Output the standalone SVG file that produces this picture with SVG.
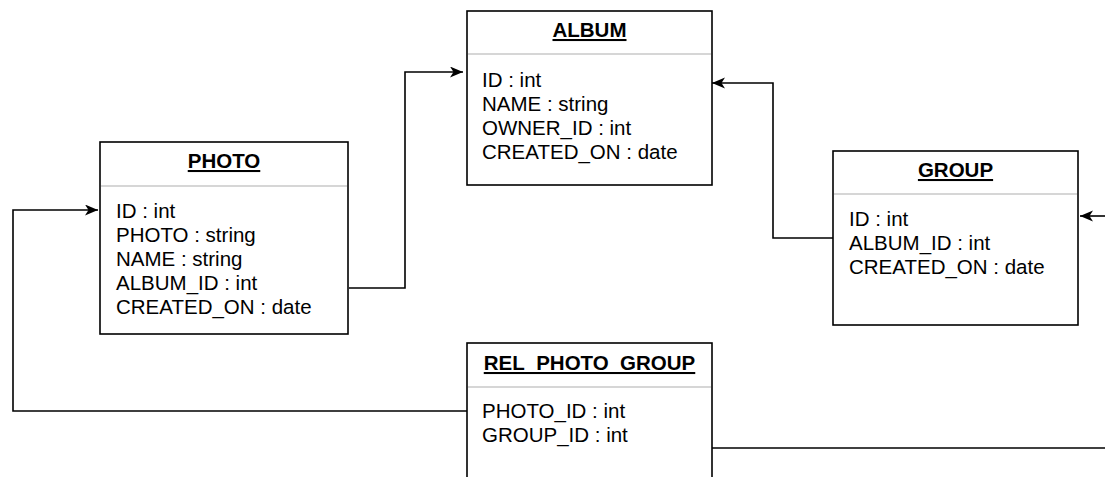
<svg xmlns="http://www.w3.org/2000/svg" width="1105" height="477" viewBox="0 0 1105 477">
<style>
.box{fill:#fff;stroke:#000;stroke-width:1.6}
.div{stroke:#c8c8c8;stroke-width:1.6}
.t{font-family:"Liberation Sans",Arial,sans-serif;font-size:20.5px;fill:#000}
.h{font-weight:bold;text-decoration:underline;text-anchor:middle}
.c{fill:none;stroke:#000;stroke-width:1.6}
</style>
<defs>
<marker id="arr" markerWidth="14" markerHeight="12" refX="13" refY="5.5" orient="auto" markerUnits="userSpaceOnUse">
<path d="M0,0 L13,5.5 L0,11 L3.5,5.5 Z" fill="#000"/>
</marker>
</defs>
<rect width="1105" height="477" fill="#fff"/>
<g id="connectors">
<polyline class="c" points="349,288 405,288 405,72 463,72" marker-end="url(#arr)"/>
<polyline class="c" points="833,238 773,238 773,83 712,83" marker-end="url(#arr)"/>
<polyline class="c" points="467,411 13,411 13,210 98,210" marker-end="url(#arr)"/>
<polyline class="c" points="712,448 1105,448"/>
<polyline class="c" points="1105,216 1080,216" marker-end="url(#arr)"/>
</g>
<g id="album">
<rect class="box" x="467" y="11" width="245" height="174"/>
<line class="div" x1="468" y1="54" x2="711" y2="54"/>
<text class="t h" x="589.5" y="37">ALBUM</text>
<text class="t" x="482" y="87">ID : int</text>
<text class="t" x="482" y="111">NAME : string</text>
<text class="t" x="482" y="135">OWNER_ID : int</text>
<text class="t" x="482" y="159">CREATED_ON : date</text>
</g>
<g id="photo">
<rect class="box" x="100" y="142" width="248" height="192"/>
<line class="div" x1="101" y1="186" x2="347" y2="186"/>
<text class="t h" x="224" y="168">PHOTO</text>
<text class="t" x="116" y="218">ID : int</text>
<text class="t" x="116" y="242">PHOTO : string</text>
<text class="t" x="116" y="266">NAME : string</text>
<text class="t" x="116" y="290">ALBUM_ID : int</text>
<text class="t" x="116" y="314">CREATED_ON : date</text>
</g>
<g id="group">
<rect class="box" x="833" y="151" width="245" height="174"/>
<line class="div" x1="834" y1="194" x2="1077" y2="194"/>
<text class="t h" x="955.5" y="177">GROUP</text>
<text class="t" x="849" y="226">ID : int</text>
<text class="t" x="849" y="250">ALBUM_ID : int</text>
<text class="t" x="849" y="274">CREATED_ON : date</text>
</g>
<g id="rel_photo_group">
<rect class="box" x="467" y="343" width="245" height="150"/>
<line class="div" x1="468" y1="387" x2="711" y2="387"/>
<text class="t h" x="589.5" y="370">REL_PHOTO_GROUP</text>
<text class="t" x="482" y="418">PHOTO_ID : int</text>
<text class="t" x="482" y="442">GROUP_ID : int</text>
</g>
</svg>
